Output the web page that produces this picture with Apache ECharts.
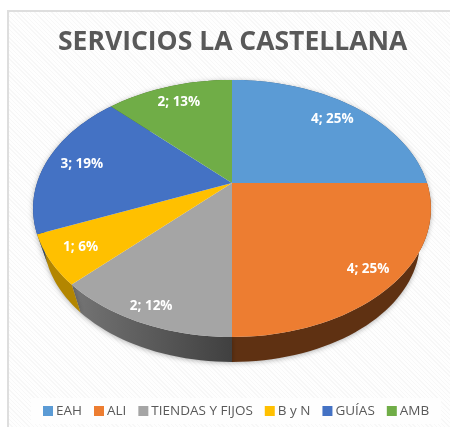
<!DOCTYPE html>
<html>
<head>
<meta charset="utf-8">
<style>
    html, body { margin: 0; padding: 0; background: #fff; }
    #chart {
        position: absolute; left: 7px; top: 10px; width: 443px; height: 417px;
        box-sizing: border-box;
        border: 2px solid #dedede;
        border-right: none; border-bottom: none;
        background: repeating-linear-gradient(45deg, #fefefe 0, #fefefe 2px, #f7f7f7 2px, #f7f7f7 3px);
    }
</style>
</head>
<body>
<div id="chart" style=""></div>
<script src="https://cdn.jsdelivr.net/npm/echarts@6/dist/echarts.min.js"></script>
<script>
const categories = ['EAH', 'ALI', 'TIENDAS Y FIJOS', 'B y N', 'GUÍAS', 'AMB']
const values = [4, 4, 2, 1, 3, 2]
const percentLabels = ['25%', '25%', '12%', '6%', '19%', '13%']
const topColors = ['#5b9bd5', '#ed7d31', '#a5a5a5', '#ffc000', '#4472c4', '#70ad47']
const wallColors = ['#37618a', '#5f3112', '#555555', '#b38600', '#2a4779', '#44692a']

// chart is offset by the css box, everything below is page px minus this
const offX = 9, offY = 12
const apexX = 232 - offX, apexY = 183 - offY
const radX = 195, radY = 123.5, persp = 0.198
// lower rim shrinks towards a vanishing point
const rimScale = 0.945, vanishY = 791 - offY
// how far out each slice carries its label
const labelRadii = [0.81, 0.867, 0.904, 0.847, 0.81, 0.818]

// unit circle -> tilted pie, angle is clockwise from the top
function project(angle, r) {
    const a = angle * Math.PI / 180
    const x = r * Math.sin(a), y = r * Math.cos(a)
    const w = 1 + persp * y
    return [apexX + radX * x / w, apexY - radY * y / w]
}
function lower(p) {
    return [apexX + (p[0] - apexX) * rimScale, vanishY - (vanishY - p[1]) * rimScale]
}
function arc(start, end) {
    const pts = []
    const n = Math.max(2, Math.ceil((end - start) / 2))
    for (let i = 0; i <= n; i++) pts.push(project(start + (end - start) * i / n, 1))
    return pts
}

const total = values.reduce((a, b) => a + b, 0)
let acc = 0
const series = categories.map((name, i) => {
    const start = acc / total * 360
    acc += values[i]
    const end = acc / total * 360
    return {
        type: 'custom',
        name: name,
        coordinateSystem: 'none',
        color: topColors[i],
        silent: true,
        animation: false,
        data: [[start, end, values[i]]],
        renderItem(params, api) {
            const s = api.value(0), e = api.value(1)
            const rim = arc(s, e)
            const mid = project((s + e) / 2, labelRadii[i])
            const wallFill = i === 2
                ? new echarts.graphic.LinearGradient(0, 0, 1, 0, [
                    { offset: 0, color: '#757575' }, { offset: 1, color: '#404040' }])
                : wallColors[i]
            return {
                type: 'group',
                children: [
                    {
                        type: 'polygon',
                        z2: 1,
                        shape: { points: rim.concat(rim.map(lower).reverse()) },
                        style: { fill: wallFill, shadowBlur: 5, shadowColor: 'rgba(0,0,0,0.3)', shadowOffsetY: 1 }
                    },
                    {
                        type: 'polygon',
                        z2: 2,
                        shape: { points: [[apexX, apexY]].concat(rim) },
                        style: { fill: topColors[i] }
                    },
                    {
                        type: 'text',
                        z2: 3,
                        x: mid[0],
                        y: mid[1],
                        style: {
                            text: api.value(2) + '; ' + percentLabels[i],
                            fill: '#fff',
                            font: 'bold 13.5px "Open Sans"',
                            align: 'center',
                            verticalAlign: 'middle'
                        }
                    }
                ]
            }
        }
    }
})

const chart = echarts.init(document.getElementById('chart'))
chart.setOption({
    animation: false,
    title: {
        text: 'SERVICIOS LA CASTELLANA',
        left: 49,
        top: 17,
        padding: 0,
        textStyle: { fontFamily: 'Open Sans', fontWeight: 'bold', fontSize: 26.5, color: '#595959' }
    },
    legend: {
        data: categories,
        bottom: 3,
        left: 22,
        icon: 'rect',
        itemWidth: 10,
        itemHeight: 10,
        itemGap: 12,
        padding: [6, 12],
        backgroundColor: '#fefefe',
        selectedMode: false,
        textStyle: { fontFamily: 'Open Sans', fontSize: 13.5, color: '#595959', padding: [0, 0, 0, -2] }
    },
    series: series
})
</script>
</body>
</html>
